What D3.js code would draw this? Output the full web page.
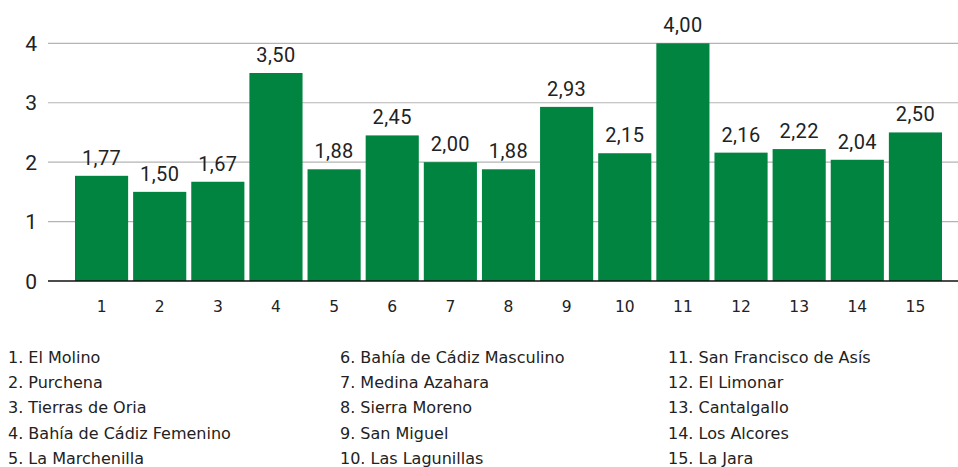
<!DOCTYPE html>
<html>
<head>
<meta charset="utf-8">
<script src="https://cdn.jsdelivr.net/npm/d3@7"></script>
<style>
  html, body { margin: 0; padding: 0; background: #fff; }
  svg { display: block; }
</style>
</head>
<body>
<svg id="chart" width="958" height="467"></svg>
<script>
// ---- data ----
const categories = ["1","2","3","4","5","6","7","8","9","10","11","12","13","14","15"];
const values = [1.77, 1.50, 1.67, 3.50, 1.88, 2.45, 2.00, 1.88, 2.93, 2.15, 4.00, 2.16, 2.22, 2.04, 2.50];
const yTicks = [0, 1, 2, 3, 4];
const legendLabels = [
  "1. El Molino", "2. Purchena", "3. Tierras de Oria", "4. Bahía de Cádiz Femenino", "5. La Marchenilla",
  "6. Bahía de Cádiz Masculino", "7. Medina Azahara", "8. Sierra Moreno", "9. San Miguel", "10. Las Lagunillas",
  "11. San Francisco de Asís", "12. El Limonar", "13. Cantalgallo", "14. Los Alcores", "15. La Jara"
];

const svg = d3.select("#chart");
const plotLeft = 48, plotRight = 958;
const y = d3.scaleLinear().domain([0, 4]).range([281, 43.3]);
const x = d3.scaleBand().domain(categories).range([72.5, 944.5]).paddingInner(0.086).paddingOuter(0.043);

const green = "#01843f";
const numFmt = v => v.toFixed(2).replace(".", ",");

// gridlines
svg.append("g").selectAll("line")
  .data(yTicks.filter(t => t > 0))
  .join("line")
  .attr("x1", plotLeft).attr("x2", plotRight)
  .attr("y1", d => y(d)).attr("y2", d => y(d))
  .attr("stroke", "#b4b4b4").attr("stroke-width", 1.2);

// y tick labels
svg.append("g").selectAll("text")
  .data(yTicks)
  .join("text")
  .attr("x", 37).attr("y", d => y(d))
  .attr("dy", "0.36em")
  .attr("text-anchor", "end")
  .attr("font-family", "Roboto, 'Noto Sans', sans-serif")
  .attr("font-size", 21)
  .attr("fill", "#222")
  .text(d => d);

// bars
svg.append("g").selectAll("rect")
  .data(values)
  .join("rect")
  .attr("x", (d, i) => x(categories[i]))
  .attr("width", x.bandwidth())
  .attr("y", d => y(d))
  .attr("height", d => y(0) - y(d))
  .attr("fill", green);

// value labels
svg.append("g").selectAll("text")
  .data(values)
  .join("text")
  .attr("x", (d, i) => x(categories[i]) + x.bandwidth() / 2)
  .attr("y", d => y(d) - 11)
  .attr("text-anchor", "middle")
  .attr("font-family", "Roboto, 'Noto Sans', sans-serif")
  .attr("font-size", 20)
  .attr("letter-spacing", 0.4)
  .attr("fill", "#222")
  .text(d => numFmt(d));

// baseline
svg.append("line")
  .attr("x1", plotLeft).attr("x2", plotRight)
  .attr("y1", y(0)).attr("y2", y(0))
  .attr("stroke", "#111").attr("stroke-width", 1.6);

// x labels
svg.append("g").selectAll("text")
  .data(categories)
  .join("text")
  .attr("x", d => x(d) + x.bandwidth() / 2)
  .attr("y", 312)
  .attr("text-anchor", "middle")
  .attr("font-family", "'DejaVu Sans', sans-serif")
  .attr("font-size", 15.5)
  .attr("fill", "#222")
  .text(d => d);

// legend
const colX = [8, 340, 668];
svg.append("g").selectAll("text")
  .data(legendLabels)
  .join("text")
  .attr("x", (d, i) => colX[Math.floor(i / 5)])
  .attr("y", (d, i) => 363 + (i % 5) * 25.2)
  .attr("font-family", "'DejaVu Sans', sans-serif")
  .attr("font-size", 16)
  .attr("fill", "#222")
  .text(d => d);
</script>
</body>
</html>
